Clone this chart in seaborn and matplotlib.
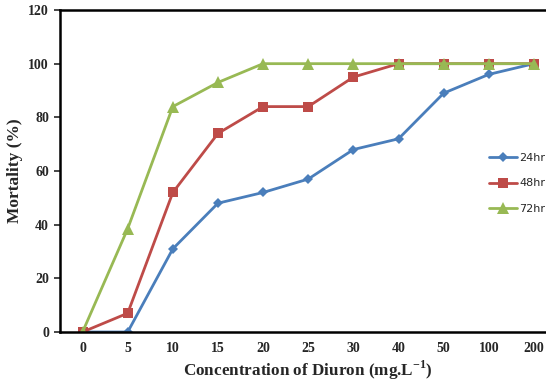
import matplotlib
matplotlib.use("Agg")
import matplotlib.pyplot as plt
import seaborn as sns
import pandas as pd
import numpy as np

concentrations = ["0", "5", "10", "15", "20", "25", "30", "40", "50", "100", "200"]
mort_24hr = [0, 0, 31, 48, 52, 57, 68, 72, 89, 96, 100]
mort_48hr = [0, 7, 52, 74, 84, 84, 95, 100, 100, 100, 100]
mort_72hr = [0, 38.5, 84, 93, 100, 100, 100, 100, 100, 100, 100]
series_names = ["24hr", "48hr", "72hr"]

rows = []
for name, vals in zip(series_names, [mort_24hr, mort_48hr, mort_72hr]):
    for i, (c, v) in enumerate(zip(concentrations, vals)):
        rows.append({"pos": i, "conc": c, "mortality": v, "series": name})
df = pd.DataFrame(rows)

sns.set_style("white")
plt.rcParams["mathtext.fontset"] = "custom"
plt.rcParams["mathtext.rm"] = "Liberation Serif"
plt.rcParams["mathtext.bf"] = "Liberation Serif:bold"

fig = plt.figure(figsize=(5.46, 3.83), dpi=100)
ax = fig.add_axes([60/546, 51/383, 496.5/546, 322/383])

palette = {"24hr": "#4A7EBB", "48hr": "#BE4B48", "72hr": "#98B954"}
markers = {"24hr": "D", "48hr": "s", "72hr": "^"}
sizes = {"24hr": 5, "48hr": 7.5, "72hr": 8}

for name in series_names:
    sub = df[df.series == name]
    sns.lineplot(data=sub, x="pos", y="mortality", ax=ax, color=palette[name],
                 marker=markers[name], markersize=sizes[name], linewidth=2.0,
                 markeredgewidth=0, label=name, sort=False)

ax.set_xlim(-0.5, len(concentrations) - 0.5)
ax.set_ylim(0, 120)
ax.set_xticks(range(len(concentrations)))
ax.set_xticklabels(concentrations)
ax.set_yticks(np.arange(0, 121, 20))

serif = ["Liberation Serif", "DejaVu Serif"]
for lab in ax.get_xticklabels() + ax.get_yticklabels():
    lab.set_family(serif)
    lab.set_fontweight("bold")
    lab.set_fontsize(10)

ax.tick_params(axis="x", length=0, pad=7)
ax.tick_params(axis="y", length=4, width=1.2, direction="out", left=True, pad=4)

for side in ["left", "bottom", "top"]:
    ax.spines[side].set_visible(True)
    ax.spines[side].set_color("black")
    ax.spines[side].set_linewidth(1.8)
ax.spines["right"].set_visible(False)

ax.set_xlabel("Concentration of Diuron (mg.L$^{\\mathbf{-1}}$)", family=serif,
              fontweight="bold", fontsize=12.3, labelpad=3)
ax.set_ylabel("Mortality (%)", family=serif, fontweight="bold", fontsize=12.5, labelpad=4)

leg = ax.legend(loc="upper left", bbox_to_anchor=(0.855, 0.57), frameon=False,
                fontsize=8, handlelength=2.5, handletextpad=0.2, labelspacing=1.4,
                borderaxespad=0)
ax.grid(False)

fig.savefig("out.png", dpi=100)
